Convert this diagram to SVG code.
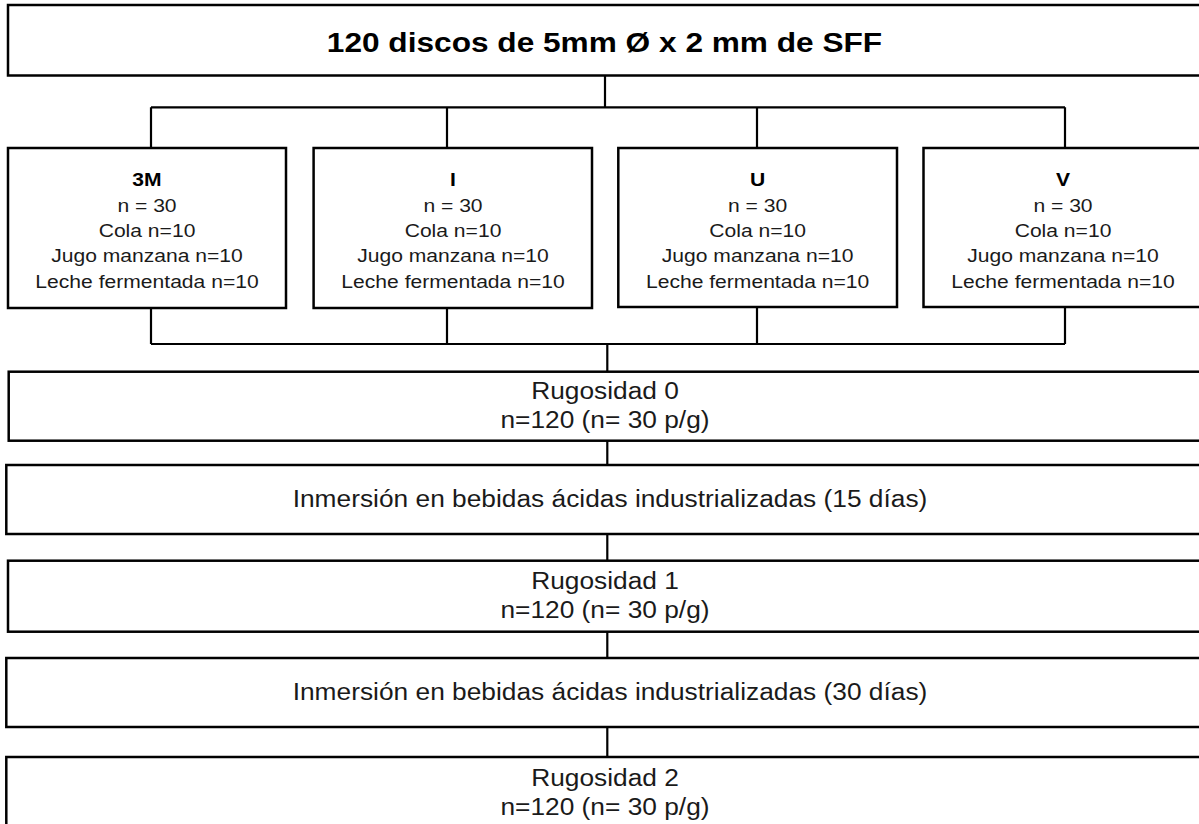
<svg xmlns="http://www.w3.org/2000/svg" width="1199" height="824" viewBox="0 0 1199 824">
<style>
.box{fill:#fff;stroke:#000;stroke-width:2.5}
.con{fill:none;stroke:#000;stroke-width:2.2}
text{font-family:"Liberation Sans",Arial,sans-serif;fill:#1a1a1a;text-anchor:middle}
.t{font-size:28px;font-weight:bold;fill:#000}
.s{font-size:18.5px}
.sb{font-size:18.5px;font-weight:bold;fill:#000}
.r{font-size:23.5px}
</style>
<rect width="1199" height="824" fill="#fff"/>
<g id="connectors">
<path class="con" d="M605 75 V107.3 M151 107.3 H1065 M151 107.3 V148 M447 107.3 V148 M757 107.3 V148 M1065 107.3 V148"/>
<path class="con" d="M151 308 V344 M447 308 V344 M757 308 V344 M1065 308 V344 M151 344 H1065 M607.3 344 V372"/>
<path class="con" d="M607.3 440.7 V465 M607.3 534 V560.7 M607.3 631.7 V658 M607.3 727 V757"/>
</g>
<g id="title">
<rect class="box" x="8" y="5" width="1200" height="70.5"/>
<text class="t" transform="translate(604.5 52) scale(1.13 1)">120 discos de 5mm Ø x 2 mm de SFF</text>
</g>
<g id="g3M">
<rect class="box" x="8" y="148" width="278" height="160"/>
<g transform="translate(147 0)">
<text class="sb" transform="translate(0 186) scale(1.14 1)">3M</text>
<text class="s" transform="translate(0 211.5) scale(1.14 1)">n = 30</text>
<text class="s" transform="translate(0 237) scale(1.14 1)">Cola n=10</text>
<text class="s" transform="translate(0 262.3) scale(1.14 1)">Jugo manzana n=10</text>
<text class="s" transform="translate(0 287.7) scale(1.14 1)">Leche fermentada n=10</text>
</g>
</g>
<g id="gI">
<rect class="box" x="313.6" y="148" width="278.4" height="160"/>
<g transform="translate(453 0)">
<text class="sb" transform="translate(0 186) scale(1.14 1)">I</text>
<text class="s" transform="translate(0 211.5) scale(1.14 1)">n = 30</text>
<text class="s" transform="translate(0 237) scale(1.14 1)">Cola n=10</text>
<text class="s" transform="translate(0 262.3) scale(1.14 1)">Jugo manzana n=10</text>
<text class="s" transform="translate(0 287.7) scale(1.14 1)">Leche fermentada n=10</text>
</g>
</g>
<g id="gU">
<rect class="box" x="618.3" y="148" width="278.7" height="159"/>
<g transform="translate(757.6 0)">
<text class="sb" transform="translate(0 186) scale(1.14 1)">U</text>
<text class="s" transform="translate(0 211.5) scale(1.14 1)">n = 30</text>
<text class="s" transform="translate(0 237) scale(1.14 1)">Cola n=10</text>
<text class="s" transform="translate(0 262.3) scale(1.14 1)">Jugo manzana n=10</text>
<text class="s" transform="translate(0 287.7) scale(1.14 1)">Leche fermentada n=10</text>
</g>
</g>
<g id="gV">
<rect class="box" x="923.5" y="148" width="280" height="159"/>
<g transform="translate(1063 0)">
<text class="sb" transform="translate(0 186) scale(1.14 1)">V</text>
<text class="s" transform="translate(0 211.5) scale(1.14 1)">n = 30</text>
<text class="s" transform="translate(0 237) scale(1.14 1)">Cola n=10</text>
<text class="s" transform="translate(0 262.3) scale(1.14 1)">Jugo manzana n=10</text>
<text class="s" transform="translate(0 287.7) scale(1.14 1)">Leche fermentada n=10</text>
</g>
</g>
<g id="rug0">
<rect class="box" x="8.7" y="371.7" width="1200" height="69"/>
<text class="r" transform="translate(605 399.3) scale(1.12 1)">Rugosidad 0</text>
<text class="r" transform="translate(605 428.3) scale(1.12 1)">n=120 (n= 30 p/g)</text>
</g>
<g id="inm15">
<rect class="box" x="6.3" y="465" width="1200" height="69"/>
<text class="r" transform="translate(610 506.7) scale(1.12 1)">Inmersión en bebidas ácidas industrializadas (15 días)</text>
</g>
<g id="rug1">
<rect class="box" x="8" y="560.7" width="1200" height="71"/>
<text class="r" transform="translate(605 589.3) scale(1.12 1)">Rugosidad 1</text>
<text class="r" transform="translate(605 618.3) scale(1.12 1)">n=120 (n= 30 p/g)</text>
</g>
<g id="inm30">
<rect class="box" x="6.3" y="658" width="1200" height="69"/>
<text class="r" transform="translate(610 699.7) scale(1.12 1)">Inmersión en bebidas ácidas industrializadas (30 días)</text>
</g>
<g id="rug2">
<rect class="box" x="6.3" y="757" width="1200" height="75"/>
<text class="r" transform="translate(605 785.6) scale(1.12 1)">Rugosidad 2</text>
<text class="r" transform="translate(605 814.6) scale(1.12 1)">n=120 (n= 30 p/g)</text>
</g>
</svg>
